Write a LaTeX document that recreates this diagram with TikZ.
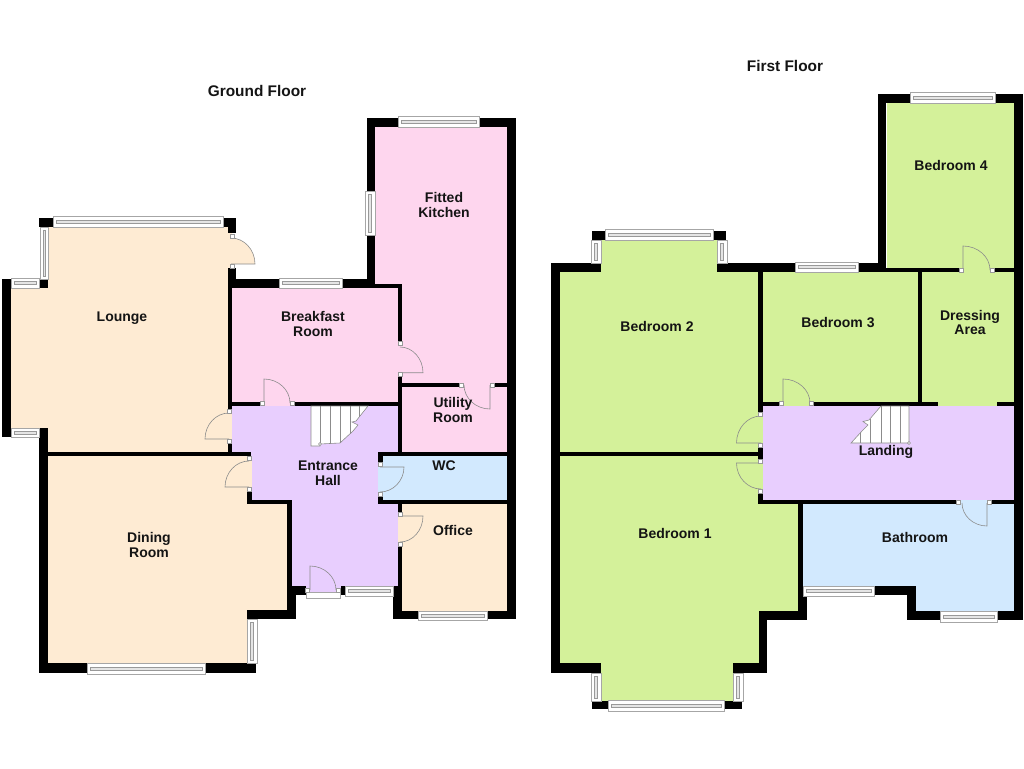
\documentclass[tikz,border=0pt]{standalone}
\usepackage{fontspec}
\setmainfont{Liberation Sans}
\usetikzlibrary{positioning}

\definecolor{beige}{HTML}{FEEBD3}
\definecolor{rose}{HTML}{FED6EE}
\definecolor{lilac}{HTML}{E8CEFE}
\definecolor{skyblue}{HTML}{D2E9FE}
\definecolor{leaf}{HTML}{D4F19A}

\tikzset{
	wall/.style={fill=black},
	winframe/.style={draw=black!35,fill=white,line width=0.8pt},
	winbar/.style={draw=black!40,fill=black!10,line width=0.5pt},
	door/.style={draw=black!45,line width=0.6pt},
	jamb/.style={draw=black!40,fill=white,line width=0.4pt},
	stairs/.style={draw=black!45,fill=white,line width=0.6pt},
	roomlabel/.style={align=center,text=black!92,font=\bfseries\fontsize{14}{14.5}\selectfont,inner sep=0pt},
	floorlabel/.style={roomlabel,font=\bfseries\fontsize{15.4}{16}\selectfont}
}

% horizontal window: x1 x2 y1 y2
\newcommand{\hwin}[4]{
	\draw[winframe] (#1,#3) rectangle (#2,#4);
	\draw[winbar] ({#1+3},{#3+(#4-#3)*0.35}) rectangle ({#2-3},{#3+(#4-#3)*0.65});
}
% vertical window: x1 x2 y1 y2
\newcommand{\vwin}[4]{
	\draw[winframe] (#1,#3) rectangle (#2,#4);
	\draw[winbar] ({#1+(#2-#1)*0.35},{#3+3}) rectangle ({#1+(#2-#1)*0.65},{#4-3});
}
% door: colour, hinge, end of leaf, end of arc
\newcommand{\doorleaf}[7]{
	\filldraw[door,fill=#1] (#2,#3) -- (#4,#5) .. controls ({#4+0.55*(#6-#2)},{#5+0.55*(#7-#3)}) and ({#6+0.55*(#4-#2)},{#7+0.55*(#5-#3)}) .. (#6,#7);
}

\begin{document}
\begin{tikzpicture}[x=1pt,y=-1pt]
	\useasboundingbox (0,0) rectangle (1024,768);

	% ground floor rooms
	\fill[beige] (48,227) -- (232,227) -- (232,452) -- (48,452) -- (48,428) -- (11,428) -- (11,288) -- (48,288) -- cycle;
	\fill[beige] (48,456) -- (252,456) -- (252,504) -- (287,504) -- (287,610) -- (247,610) -- (247,663) -- (48,663) -- cycle;
	\fill[rose] (232,288) rectangle (402,406);
	\fill[rose] (375,127) rectangle (507,452);
	\fill[lilac] (232,406) -- (398,406) -- (398,452) -- (378,452) -- (378,504) -- (398,504) -- (398,592) -- (292,592) -- (292,504) -- (252,504) -- (252,456) -- (232,456) -- cycle;
	\fill[skyblue] (378,456) rectangle (507,500);
	\fill[beige] (398,504) rectangle (507,611);

	% first floor rooms
	\fill[leaf] (560,272) -- (601,272) -- (601,240) -- (717,240) -- (717,272) -- (763,272) -- (763,452) -- (560,452) -- cycle;
	\fill[leaf] (560,456) -- (763,456) -- (763,504) -- (798,504) -- (798,611) -- (759,611) -- (759,663) -- (733,663) -- (733,701) -- (601,701) -- (601,663) -- (560,663) -- cycle;
	\fill[leaf] (763,272) rectangle (1014,406);
	\fill[leaf] (887,103) rectangle (1014,272);
	\fill[lilac] (763,406) rectangle (1014,500);
	\fill[skyblue] (803,500) rectangle (1014,586);
	\fill[skyblue] (916,586) rectangle (1014,611);

	% ground floor walls
	\foreach \xa/\ya/\xb/\yb in {2/279/11/437,39/218/53/227,223/218/236/227,228/227/236/233,228/268/236/288,228/279/279/288,228/288/232/410,39/279/48/288,39/428/48/673,48/663/87/673,205/663/256/673,247/610/296/619,287/504/292/610,287/586/296/619,296/586/306/595,341/586/345/595,48/452/251/456,228/441/232/452,247/491/252/504,247/500/292/504,228/402/260/406,294/402/402/406,367/118/398/127,479/118/516/127,507/118/516/619,367/127/375/191,367/235/375/288,342/279/375/288,375/284/402/288,398/284/402/345,398/376/402/452,402/383/460/387,495/383/507/387,378/452/507/456,378/500/507/504,378/456/383/463,378/495/383/500,398/504/402/512,398/546/402/586,393/586/402/619,402/611/418/619,487/611/507/619}
		\fill[wall] (\xa,\ya) rectangle (\xb,\yb);

	% first floor walls
	\foreach \xa/\ya/\xb/\yb in {551/263/560/673,551/263/601/272,717/263/795/272,858/263/878/272,878/94/886/272,878/94/910/103,995/94/1023/103,1014/94/1023/620,886/268/960/272,994/268/1014/272,592/231/605/240,713/231/726/240,758/272/763/412,758/402/780/406,813/402/938/406,997/402/1014/406,918/272/922/402,758/447/763/459,758/493/763/504,560/452/758/456,758/500/956/504,990/500/1014/504,798/504/803/586,798/586/807/620,759/611/807/620,759/611/767/673,733/663/767/673,551/663/601/673,592/701/608/709,724/701/742/709,874/586/916/595,907/586/916/620,907/611/940/620,997/611/1023/620}
		\fill[wall] (\xa,\ya) rectangle (\xb,\yb);

	% windows
	\hwin{53}{223}{216}{227}
	\hwin{279}{342}{278}{288}
	\hwin{398}{479}{116}{127}
	\hwin{87}{205}{663}{674}
	\hwin{345}{393}{586}{596}
	\hwin{418}{487}{611}{620}
	\hwin{11}{39}{278}{288}
	\hwin{11}{39}{428}{437}
	\hwin{795}{858}{262}{272}
	\hwin{910}{995}{92}{103}
	\hwin{605}{713}{229}{240}
	\hwin{803}{874}{586}{596}
	\hwin{940}{997}{611}{622}
	\hwin{608}{724}{700}{711}
	\vwin{40}{48}{227}{279}
	\vwin{247}{257}{619}{663}
	\vwin{365}{375}{191}{235}
	\vwin{591}{601}{240}{263}
	\vwin{717}{727}{240}{263}
	\vwin{591}{601}{673}{701}
	\vwin{733}{743}{673}{701}
	\draw[winframe] (306,592) rectangle (340,598);

	% doors
	\doorleaf{beige}{231}{264}{255}{264}{231}{238}
	\doorleaf{beige}{229}{439}{205}{439}{229}{413}
	\doorleaf{beige}{249}{487}{225}{487}{249}{461}
	\doorleaf{rose}{264}{403}{264}{379}{290}{403}
	\doorleaf{rose}{400}{372.7}{423}{372.7}{400}{347}
	\doorleaf{rose}{490}{385}{490}{409}{464}{385}
	\doorleaf{skyblue}{380}{467}{404}{467}{380}{492}
	\doorleaf{beige}{400}{516}{423}{516}{400}{542}
	\doorleaf{lilac}{310}{590}{310}{566}{336}{590}
	\doorleaf{leaf}{761}{443}{736.5}{443}{761}{416}
	\doorleaf{leaf}{761}{463}{736.5}{463}{761}{489}
	\doorleaf{leaf}{783}{403}{783}{379}{810}{403}
	\doorleaf{skyblue}{987}{503}{987}{526}{962}{503}
	\doorleaf{leaf}{963}{270}{963}{246}{990}{270}

	\foreach \x/\y in {232/236,232/266,229/411,229/441,249/458,249/489,262/403,292/403,400/343,400/374,461/385,492/385,380.5/464,380.5/494,400.5/514,400.5/544,307.5/590,338/590,760.5/414,760.5/445,760.5/461,760.5/491,781/403,811/403,958/502,989/502,961/270,992/270}
		\filldraw[jamb] (\x-2,\y-2) rectangle (\x+2,\y+2);

	% stairs, ground floor
	\filldraw[stairs] (311,406) -- (368,406) -- (356,421) -- (352,422) -- (358,425) -- (353,431) -- (340,443) -- (320,444) -- (320,446) -- (311,446) -- cycle;
	\foreach \x/\y in {320/444,330/443,340/443,350/434,359/417}
		\draw[stairs] (\x,406) -- (\x,\y);
	\filldraw[stairs] (320,444) circle (1.5);

	% stairs, first floor
	\filldraw[stairs] (881,406) -- (909,406) -- (909,443) -- (851,443) -- (862,431) -- (868,425) -- (863,421.5) -- (869,420) -- cycle;
	\foreach \x/\y in {860/443,870/443,881/443,890/443,900/443}
		\draw[stairs] (\x,{\x==860 ? 433 : (\x==870 ? 419 : 406)}) -- (\x,\y);
	\filldraw[stairs] (909,443) circle (1.5);

	% labels
	\node[floorlabel] (groundtitle) at (257,91) {Ground Floor};
	\node[floorlabel] (firsttitle) at (785,66) {First Floor};
	\node[roomlabel] (lounge) at (122,318.5) {Lounge};
	\node[roomlabel] (breakfast) at (313,324) {Breakfast\\Room};
	\node[roomlabel] (kitchen) at (444,205) {Fitted\\Kitchen};
	\node[roomlabel] (utility) at (453,410) {Utility\\Room};
	\node[roomlabel] (wc) at (444,466) {WC};
	\node[roomlabel] (hall) at (328,473) {Entrance\\Hall};
	\node[roomlabel] (office) at (453,530) {Office};
	\node[roomlabel] (dining) at (149,545) {Dining\\Room};
	\node[roomlabel] (bedtwo) at (657,326) {Bedroom 2};
	\node[roomlabel] (bedthree) at (838,323) {Bedroom 3};
	\node[roomlabel] (bedfour) at (951,165) {Bedroom 4};
	\node[roomlabel] (dressing) at (970,322.5) {Dressing\\Area};
	\node[roomlabel] (landing) at (886,451.5) {Landing};
	\node[roomlabel] (bathroom) at (915,537) {Bathroom};
	\node[roomlabel] (bedone) at (675,533) {Bedroom 1};
\end{tikzpicture}
\end{document}
